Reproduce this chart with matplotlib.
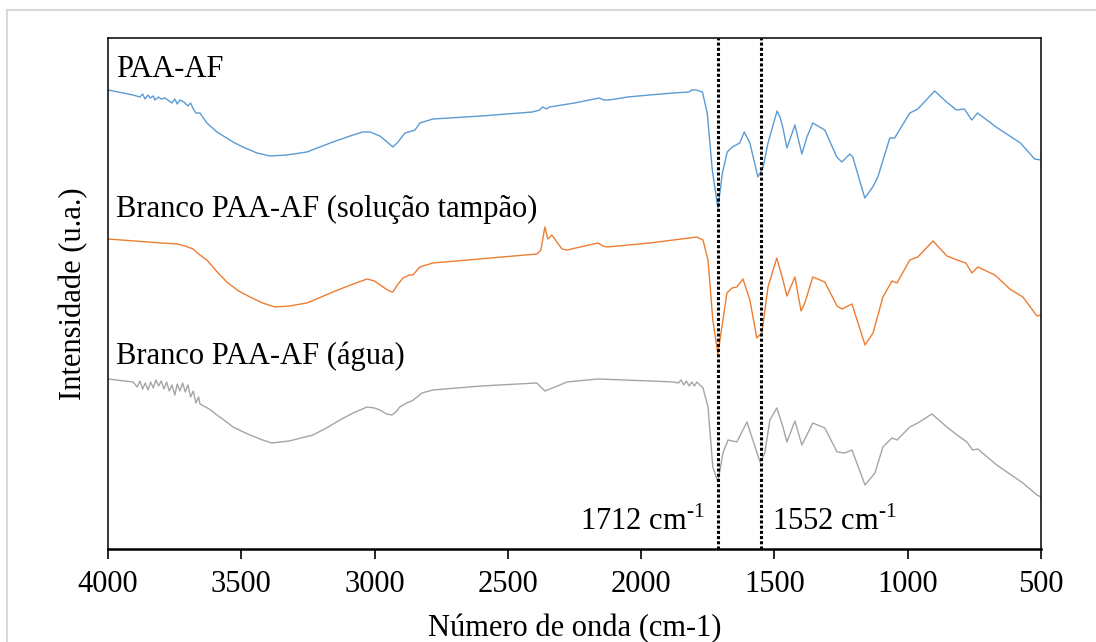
# -*- coding: utf-8 -*-
"""
FTIR spectra: PAA-AF and the two blanks, stacked with an offset.
"""

import matplotlib
matplotlib.use('Agg')
import matplotlib.pyplot as plt
from matplotlib.patches import Rectangle

plt.rcParams['font.family'] = ['Liberation Serif', 'DejaVu Serif']
plt.rcParams['mathtext.fontset'] = 'custom'
plt.rcParams['mathtext.rm'] = 'Liberation Serif'

# wavenumber (cm-1) and intensity (arbitrary units, offset already included)
wn_paa = [4000, 3906, 3880, 3870, 3861, 3850, 3842, 3830, 3824, 3810, 3800,
          3786, 3770, 3760, 3749, 3740, 3730, 3715, 3700, 3690, 3680, 3670,
          3655, 3629, 3591, 3561, 3531, 3494, 3441, 3392, 3329, 3254, 3205,
          3156, 3092, 3044, 3017, 2980, 2953, 2931, 2912, 2886, 2860, 2848,
          2830, 2781, 2600, 2408, 2380, 2370, 2355, 2344, 2250, 2157, 2140,
          2120, 2050, 1969, 1880, 1820, 1810, 1793, 1770, 1752, 1733, 1712,
          1695, 1677, 1658, 1630, 1613, 1592, 1562, 1543, 1524, 1490, 1479,
          1468, 1453, 1423, 1397, 1378, 1356, 1311, 1266, 1247, 1217, 1206,
          1161, 1131, 1112, 1067, 1049, 992, 962, 899, 854, 817, 787, 760,
          738, 663, 577, 524, 500]
int_paa = [459, 454, 452, 455, 450, 454, 451, 453, 449, 452, 450,
           451, 448, 446, 450, 445, 449, 447, 443, 446, 440, 436,
           436, 426, 417, 412, 407, 402, 396, 393, 394, 397, 402,
           407, 413, 417, 417, 413, 407, 402, 407, 416, 418, 419,
           426, 430, 433, 437, 439, 442, 440, 442, 446, 451, 449,
           449, 452, 454, 456, 457, 459, 459, 457, 436, 379, 341,
           376, 397, 402, 406, 417, 406, 372, 381, 406, 438, 432,
           421, 401, 424, 395, 412, 426, 419, 392, 387, 395, 392,
           351, 362, 372, 411, 411, 436, 440, 458, 447, 439, 440, 429,
           436, 421, 406, 390, 389]

wn_tampao = [4000, 3900, 3800, 3741, 3710, 3681, 3660, 3640, 3629, 3590,
             3554, 3510, 3467, 3420, 3374, 3320, 3254, 3200, 3156, 3090,
             3028, 3000, 2968, 2945, 2931, 2912, 2893, 2870, 2856, 2840,
             2830, 2781, 2391, 2376, 2361, 2350, 2335, 2297, 2278, 2162,
             2143, 2128, 1967, 1791, 1768, 1749, 1731, 1712, 1697, 1678,
             1659, 1641, 1618, 1592, 1566, 1547, 1524, 1491, 1468, 1453,
             1423, 1400, 1386, 1356, 1311, 1265, 1247, 1209, 1160, 1130,
             1093, 1059, 1040, 992, 962, 905, 853, 815, 782, 759, 737, 673,
             617, 568, 515, 500]
int_tampao = [310, 308, 306, 305, 303, 300, 295, 291, 289, 277,
              267, 258, 252, 246, 242, 243, 246, 252, 257, 264,
              270, 268, 262, 258, 257, 265, 271, 274, 274, 279,
              282, 286, 295, 299, 322, 310, 314, 300, 299, 306,
              303, 302, 306, 312, 309, 289, 229, 195, 222, 256,
              261, 262, 270, 249, 211, 216, 262, 291, 269, 253,
              272, 238, 246, 272, 267, 243, 240, 245, 204, 216,
              252, 268, 266, 289, 292, 308, 293, 289, 286, 276, 282, 274,
              260, 252, 233, 234]

wn_agua = [4000, 3906, 3890, 3880, 3870, 3860, 3850, 3840, 3830, 3820, 3810,
           3800, 3790, 3780, 3770, 3760, 3749, 3740, 3730, 3720, 3710, 3700,
           3690, 3680, 3670, 3660, 3655, 3620, 3591, 3560, 3531, 3500, 3467,
           3420, 3385, 3320, 3231, 3180, 3130, 3080, 3028, 3000, 2980, 2955,
           2935, 2920, 2905, 2880, 2860, 2840, 2822, 2781, 2600, 2391, 2361,
           2323, 2278, 2162, 1967, 1880, 1860, 1850, 1840, 1830, 1820, 1810,
           1800, 1791, 1768, 1749, 1731, 1712, 1693, 1674, 1641, 1603, 1581,
           1554, 1536, 1517, 1491, 1468, 1453, 1423, 1397, 1356, 1311, 1265,
           1236, 1209, 1160, 1123, 1093, 1059, 1040, 992, 962, 909, 853, 815,
           778, 756, 737, 666, 568, 515, 500]
int_agua = [170, 167, 162, 168, 160, 166, 159, 167, 161, 169, 163,
            168, 160, 167, 158, 164, 154, 165, 158, 166, 157, 164,
            152, 158, 146, 152, 145, 140, 134, 128, 122, 118, 114,
            109, 106, 108, 114, 121, 129, 136, 142, 141, 139, 135,
            134, 137, 142, 146, 148, 152, 156, 159, 163, 166, 158,
            162, 167, 170, 168, 167, 166, 169, 164, 168, 163, 167,
            163, 167, 161, 142, 82, 67, 96, 109, 107, 127, 109,
            87, 96, 129, 141, 122, 107, 128, 104, 126, 121, 97,
            96, 99, 64, 76, 102, 111, 109, 122, 126, 135, 122, 114,
            107, 99, 100, 84, 66, 54, 52]

series_labels = ['PAA-AF', 'Branco PAA-AF (solução tampão)',
                 'Branco PAA-AF (água)']
peak_positions = [1712, 1552]
x_ticks = [4000, 3500, 3000, 2500, 2000, 1500, 1000, 500]

fig = plt.figure(figsize=(10.96, 6.42), dpi=100)
ax = fig.add_axes([0.0985, 0.1449, 0.8513, 0.7959])

ax.plot(wn_paa, int_paa, color='#5B9BD5', lw=1.0)
ax.plot(wn_tampao, int_tampao, color='#ED7D31', lw=1.0)
ax.plot(wn_agua, int_agua, color='#A5A5A5', lw=1.0)

for p in peak_positions:
    ax.axvline(p, color='black', lw=2.2, linestyle=(0, (1, 0.7)))

fs = 22
ax.text(3970, 480, series_labels[0], fontsize=fs, va='center', ha='left')
ax.text(3970, 340, series_labels[1], fontsize=fs, va='center', ha='left')
ax.text(3970, 193, series_labels[2], fontsize=fs, va='center', ha='left')
ax.text(1760, 27, '1712 cm$^{\\text{-1}}$', fontsize=fs,
        va='center', ha='right')
ax.text(1510, 27, '1552 cm$^{\\text{-1}}$', fontsize=fs,
        va='center', ha='left')

ax.set_xlim(4000, 500)
ax.set_ylim(0, 511)
ax.set_xticks(x_ticks)
ax.set_yticks([])
ax.tick_params(axis='x', direction='out', length=7, width=1.2,
               labelsize=fs, pad=8)
ax.set_xlabel('Número de onda (cm-1)', fontsize=fs, labelpad=11)
ax.set_ylabel('Intensidade (u.a.)', fontsize=fs, labelpad=14)
for side in ['top', 'right', 'left']:
    ax.spines[side].set_linewidth(1.1)
ax.spines['bottom'].set_linewidth(1.8)

# light grey frame of the original picture (top and left edges visible)
fig.add_artist(Rectangle((7 / 1096, -0.5), 2, 0.5 + 1 - 10 / 642,
                         transform=fig.transFigure, fill=False,
                         edgecolor='#d9d9d9', lw=1.5))

fig.savefig('out.png', dpi=100)
